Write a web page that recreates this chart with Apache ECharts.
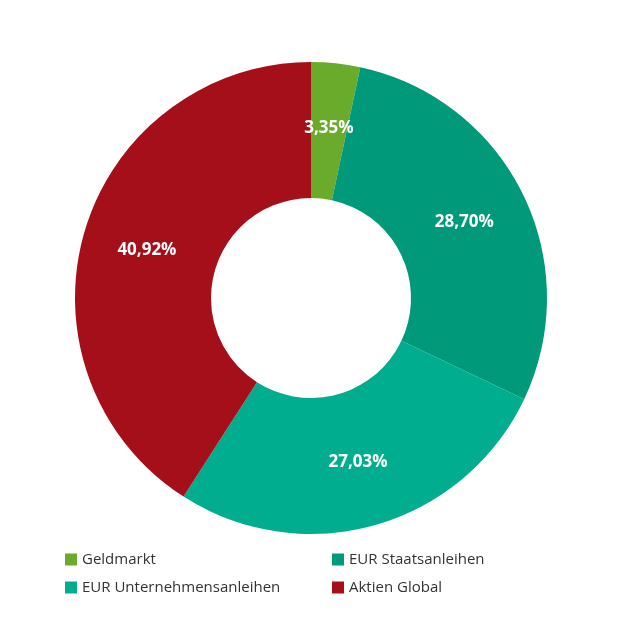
<!DOCTYPE html>
<html><head><meta charset="utf-8">
<script src="https://cdn.jsdelivr.net/npm/echarts@6/dist/echarts.min.js"></script>
<style>html,body{margin:0;padding:0;background:#fff}#c{width:628px;height:628px}</style>
</head><body><div id="c"></div>
<script>
const categories = ["Geldmarkt","EUR Staatsanleihen","EUR Unternehmensanleihen","Aktien Global"];
const values = [3.35, 28.70, 27.03, 40.92];
const colors = ["#6aab2b","#009a7a","#00ad8f","#a40f1a"];
const chart = echarts.init(document.getElementById('c'));
const legendStyle = {orient:'vertical', itemWidth:12, itemHeight:12, itemGap:13, icon:'rect',
  textStyle:{fontFamily:'Open Sans', fontSize:15, color:'#333'}};
chart.setOption({
  animation:false,
  color: colors,
  legend:[
    Object.assign({left:60, top:547, data:[categories[0],categories[2]]}, legendStyle),
    Object.assign({left:327, top:547, data:[categories[1],categories[3]]}, legendStyle)
  ],
  series:[{
    type:'pie', center:[311,298], radius:[100,236], startAngle:90, clockwise:true,
    data: categories.map((n,i)=>({name:n, value:values[i]})),
    label:{show:true, position:'inside', color:'#fff', fontFamily:'Open Sans', fontWeight:'bold', fontSize:17,
      formatter:p=>p.value.toFixed(2).replace('.',',')+'%'},
    labelLine:{show:false},
    itemStyle:{borderWidth:0}
  }]
});
</script></body></html>
